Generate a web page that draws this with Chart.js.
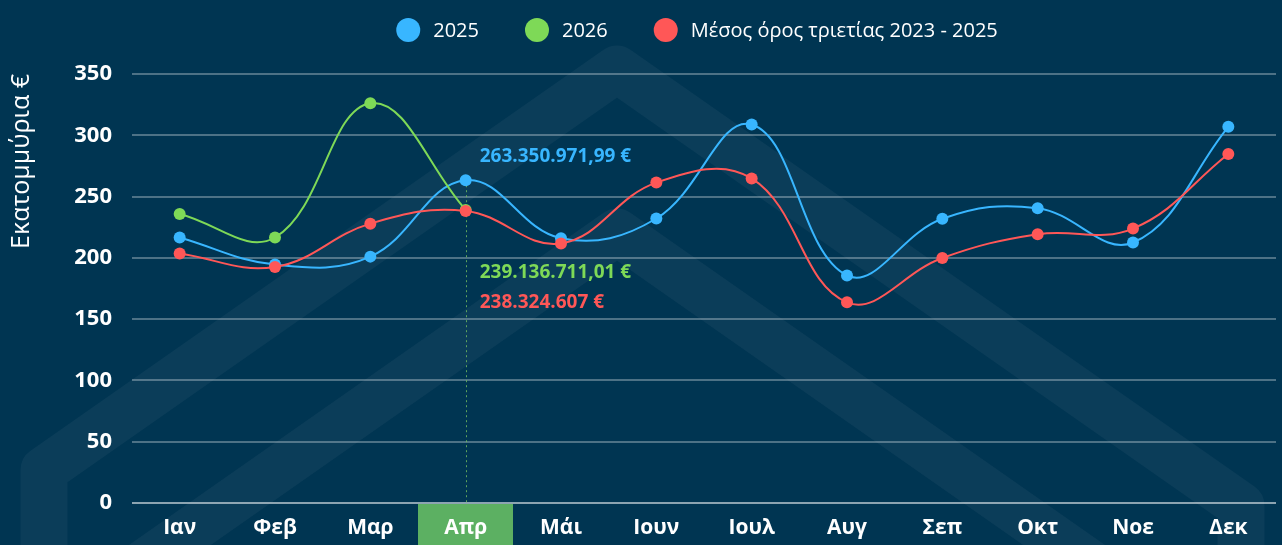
<!DOCTYPE html>
<html>
<head>
<meta charset="utf-8">
<script src="https://cdn.jsdelivr.net/npm/chart.js@4.4.1/dist/chart.umd.min.js"></script>
<style>
html,body{margin:0;padding:0;background:#003552;overflow:hidden;}
#wrap{width:1282px;height:545px;position:relative;}
canvas{display:block;}
</style>
</head>
<body>
<div id="wrap"><canvas id="c" width="1282" height="545"></canvas></div>
<script>
// ---------- data ----------
const months = ['Ιαν','Φεβ','Μαρ','Απρ','Μάι','Ιουν','Ιουλ','Αυγ','Σεπ','Οκτ','Νοε','Δεκ'];
const values2025 = [216.6, 194.5, 201.0, 263.35, 216.0, 232.1, 308.8, 185.6, 231.9, 240.5, 212.5, 306.9];
const values2026 = [235.8, 216.6, 326.2, 239.14, null, null, null, null, null, null, null, null];
const avg2023_2025 = [203.6, 192.6, 227.9, 238.32, 211.8, 261.4, 264.8, 163.7, 199.9, 219.3, 223.9, 284.7];
const yTicks = [0, 50, 100, 150, 200, 250, 300, 350];
const seriesNames = ['2025', '2026', 'Μέσος όρος τριετίας 2023 - 2025'];
const seriesColors = ['#38b6ff', '#7ed957', '#ff5757'];
const highlightIndex = 3;
const highlightTexts = ['263.350.971,99 €', '239.136.711,01 €', '238.324.607 €'];
const yTitle = 'Εκατομμύρια €';

const FONT = '"Open Sans", "Noto Sans", sans-serif';
const BG = '#003552';

// ---------- plugins ----------
const backgroundPlugin = {
  id: 'backgroundPlugin',
  beforeDraw(chart) {
    const { ctx, width, height, chartArea, scales } = chart;
    ctx.save();
    ctx.fillStyle = BG;
    ctx.fillRect(0, 0, width, height);
    // watermark chevrons
    ctx.strokeStyle = 'rgba(255,255,255,0.045)';
    ctx.lineWidth = 47;
    ctx.lineJoin = 'round';
    ctx.lineCap = 'butt';
    const ax = 617, s = 0.7, a1 = 69, a2 = 232;
    ctx.beginPath();
    ctx.moveTo(44, 700);
    ctx.lineTo(44, a1 + (ax - 44) * s);
    ctx.lineTo(ax, a1);
    ctx.lineTo(1241, a1 + (1241 - ax) * s);
    ctx.lineTo(1241, 700);
    ctx.stroke();
    ctx.beginPath();
    ctx.moveTo(ax - (800 - a2) / s, 800);
    ctx.lineTo(ax, a2);
    ctx.lineTo(ax + (800 - a2) / s, 800);
    ctx.stroke();
    // highlighted month box
    const x = scales.x;
    const xc = x.getPixelForValue(highlightIndex);
    const half = (x.getPixelForValue(1) - x.getPixelForValue(0)) / 2;
    ctx.fillStyle = 'rgb(92,176,98)';
    ctx.fillRect(Math.round(xc - half), chartArea.bottom + 1, Math.round(half * 2), height - chartArea.bottom);
    ctx.restore();
  }
};

const crosshairPlugin = {
  id: 'crosshairPlugin',
  beforeDatasetsDraw(chart) {
    const { ctx, chartArea, scales } = chart;
    const xp = Math.round(scales.x.getPixelForValue(highlightIndex)) + 0.5;
    const yTop = scales.y.getPixelForValue(values2025[highlightIndex]);
    ctx.save();
    ctx.strokeStyle = 'rgba(110,185,95,0.85)';
    ctx.lineWidth = 1;
    ctx.setLineDash([2, 3]);
    ctx.beginPath();
    ctx.moveTo(xp, yTop);
    ctx.lineTo(xp, chartArea.bottom);
    ctx.stroke();
    ctx.restore();
  },
  afterDatasetsDraw(chart) {
    const { ctx, scales } = chart;
    const xp = scales.x.getPixelForValue(highlightIndex) + 14;
    const yBlue = scales.y.getPixelForValue(values2025[highlightIndex]);
    const yGreen = scales.y.getPixelForValue(values2026[highlightIndex]);
    ctx.save();
    ctx.font = 'bold 19px ' + FONT;
    ctx.textAlign = 'left';
    ctx.textBaseline = 'middle';
    ctx.fillStyle = seriesColors[0];
    ctx.fillText(highlightTexts[0], xp, yBlue - 24);
    ctx.fillStyle = seriesColors[1];
    ctx.fillText(highlightTexts[1], xp, yGreen + 63);
    ctx.fillStyle = seriesColors[2];
    ctx.fillText(highlightTexts[2], xp, yGreen + 93);
    ctx.restore();
  }
};

const legendPlugin = {
  id: 'legendPlugin',
  afterDraw(chart) {
    const { ctx, chartArea } = chart;
    ctx.save();
    ctx.font = '20px ' + FONT;
    const r = 12, gapText = 13, gapItem = 46;
    const widths = seriesNames.map(t => ctx.measureText(t).width);
    let total = 0;
    widths.forEach((w, i) => { total += 2 * r + gapText + w + (i < widths.length - 1 ? gapItem : 0); });
    let x = (chartArea.left + chartArea.right) / 2 - 7 - total / 2;
    const y = 30;
    ctx.textBaseline = 'middle';
    ctx.textAlign = 'left';
    seriesNames.forEach((t, i) => {
      ctx.fillStyle = seriesColors[i];
      ctx.beginPath();
      ctx.arc(x + r, y, r, 0, Math.PI * 2);
      ctx.fill();
      x += 2 * r + gapText;
      ctx.fillStyle = '#ffffff';
      ctx.fillText(t, x, y + 1);
      x += widths[i] + gapItem;
    });
    ctx.restore();
  }
};

function makeDataset(label, data, color, order) {
  return {
    label, data, order,
    borderColor: color,
    backgroundColor: color,
    pointBackgroundColor: color,
    pointBorderWidth: 0,
    pointRadius: 6,
    pointHoverRadius: 6,
    borderWidth: 2,
    tension: 0.4,
    fill: false,
    spanGaps: false
  };
}

function build() {
  new Chart(document.getElementById('c'), {
    type: 'line',
    data: {
      labels: months,
      datasets: [
        makeDataset(seriesNames[0], values2025, seriesColors[0], 3),
        makeDataset(seriesNames[1], values2026, seriesColors[1], 2),
        makeDataset(seriesNames[2], avg2023_2025, seriesColors[2], 1)
      ]
    },
    options: {
      responsive: false,
      animation: false,
      events: [],
      layout: { padding: { top: 74, right: 3, left: 0, bottom: 0 } },
      plugins: {
        legend: { display: false },
        tooltip: { enabled: false },
        title: { display: false }
      },
      scales: {
        x: {
          type: 'category',
          offset: true,
          grid: { display: false, drawTicks: false },
          border: { display: false },
          ticks: {
            color: '#ffffff',
            font: { family: FONT, size: 21, weight: 'bold' },
            padding: 12,
            maxRotation: 0,
            autoSkip: false
          },
          afterFit(scale) { scale.height = 42; }
        },
        y: {
          min: 0,
          max: 350,
          afterBuildTicks(scale) { scale.ticks = yTicks.map(v => ({ value: v })); },
          grid: {
            drawTicks: false,
            lineWidth: 2,
            color: c => (c.tick && c.tick.value === 0) ? 'rgba(255,255,255,0.55)' : 'rgba(255,255,255,0.3)'
          },
          border: { display: false },
          ticks: {
            color: '#ffffff',
            font: { family: FONT, size: 22, weight: 'bold' },
            padding: 20
          },
          title: {
            display: true,
            text: yTitle,
            align: 'end',
            color: '#ffffff',
            font: { family: FONT, size: 25, weight: 'normal' },
            padding: { top: 7, bottom: 0 }
          },
          afterFit(scale) { scale.width = 132; }
        }
      }
    },
    plugins: [backgroundPlugin, crosshairPlugin, legendPlugin]
  });
}

const fontLoads = [
  '20px "Open Sans"', 'bold 20px "Open Sans"', '25px "Open Sans"', 'bold 22px "Open Sans"'
].map(f => document.fonts.load(f, 'ΑΒαβ0123€'));
Promise.all(fontLoads).then(build, build);
</script>
</body>
</html>
